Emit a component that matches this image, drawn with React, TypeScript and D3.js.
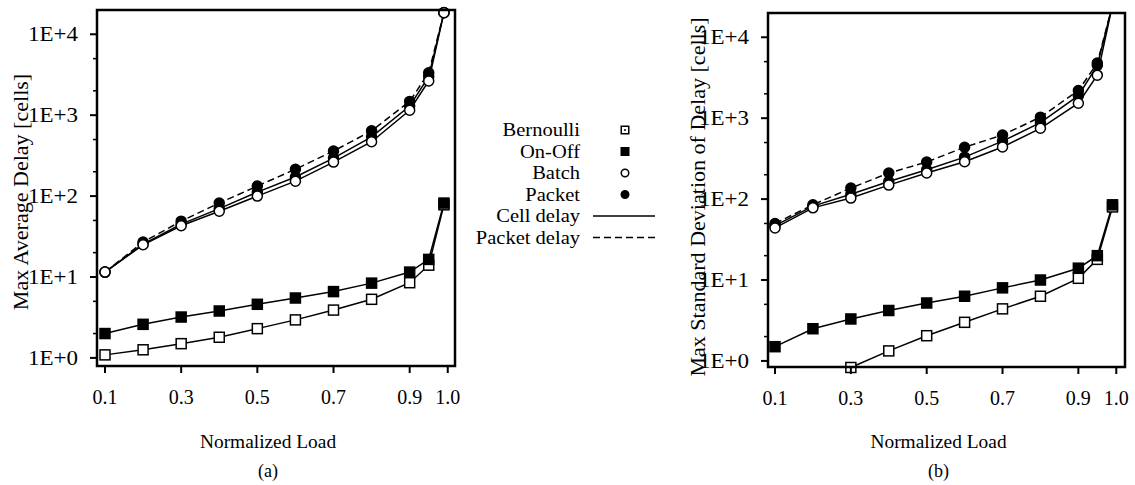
import React from "react";
import * as d3 from "d3";

const loads = [0.1, 0.2, 0.3, 0.4, 0.5, 0.6, 0.7, 0.8, 0.9, 0.95, 0.99];
const xTickValues = [0.1, 0.3, 0.5, 0.7, 0.9, 1.0];
const yMajorTicks = [1, 10, 100, 1000, 10000];
const yMajorLabels = ["1E+0", "1E+1", "1E+2", "1E+3", "1E+4"];
const yMinorTicks = [2, 5, 20, 50, 200, 500, 2000, 5000];

// (a) Max average delay [cells]
const avgBernoulli = [1.09, 1.26, 1.5, 1.8, 2.3, 2.95, 3.9, 5.3, 8.5, 14, 78];
const avgOnOff = [2.0, 2.6, 3.2, 3.8, 4.6, 5.5, 6.6, 8.4, 11.5, 16.5, 82];
const avgBatch = [11.5, 25, 43, 65, 100, 153, 263, 470, 1150, 2650, 18500];
const avgPacketCell = [11.5, 25.5, 45, 70, 112, 172, 295, 540, 1300, 3000, 18500];
const avgPacketPkt = [11.5, 27, 49, 82, 133, 215, 360, 640, 1480, 3350, 18600];

// (b) Max standard deviation of delay [cells]
const sdBernoulli = [null, null, 0.83, 1.33, 2.05, 3.0, 4.4, 6.3, 10.5, 18, 80];
const sdOnOff = [1.5, 2.5, 3.3, 4.2, 5.2, 6.3, 8.0, 10, 14, 20, 85];
const sdBatch = [44, 78, 103, 149, 210, 290, 440, 750, 1530, 3400, 25000];
const sdPacketCell = [47, 82, 115, 165, 230, 330, 520, 880, 1900, 4500, 25000];
const sdPacketPkt = [50, 85, 137, 210, 287, 438, 620, 1030, 2200, 4800, 25000];

const legendLabels = ["Bernoulli", "On-Off", "Batch", "Packet", "Cell delay", "Packet delay"];

const FONT = "'Liberation Serif', 'Times New Roman', serif";

type TProps = {
  x: number; y: number; size: number; sx?: number; anchor?: string; rot?: number; children: React.ReactNode;
};
function T({ x, y, size, sx = 1, anchor = "start", rot = 0, children }: TProps) {
  return (
    <text
      transform={`translate(${x},${y}) rotate(${rot}) scale(${sx},1)`}
      fontSize={size}
      fontFamily={FONT}
      textAnchor={anchor as any}
      fill="#000"
    >
      {children}
    </text>
  );
}

type Series = { values: (number | null)[]; marker: "osq" | "fsq" | "oc" | "fc"; dashed?: boolean };

function Marker({ kind, x, y, s = 1 }: { kind: string; x: number; y: number; s?: number }) {
  const h = 5 * s;
  if (kind === "osq" || kind === "fsq") {
    return (
      <rect x={x - h} y={y - h} width={2 * h} height={2 * h}
        fill={kind === "fsq" ? "#000" : "#fff"} stroke="#000" strokeWidth={1.5} />
    );
  }
  return (
    <circle cx={x} cy={y} r={h} fill={kind === "fc" ? "#000" : "#fff"} stroke="#000" strokeWidth={1.5} />
  );
}

type PanelProps = {
  id: string; x0: number; x1: number; y0: number; y1: number;
  xDom: [number, number]; yDom: [number, number];
  series: Series[]; title: string; titleX: number; titleY: number;
  tag: string;
};

function Panel({ id, x0, x1, y0, y1, xDom, yDom, series, title, titleX, titleY, tag }: PanelProps) {
  const x = d3.scaleLinear().domain(xDom).range([x0, x1]);
  const y = d3.scaleLog().domain(yDom).range([y1, y0]);
  const cx = (x0 + x1) / 2;
  const line = d3.line<[number, number | null]>()
    .defined((d) => d[1] !== null)
    .x((d) => x(d[0]))
    .y((d) => y(d[1] as number));
  const inDom = (v: number) => v >= yDom[0] * 0.98 && v <= yDom[1] * 1.02;
  return (
    <g>
      <defs>
        <clipPath id={`clip-${id}`}>
          <rect x={x0} y={y0} width={x1 - x0} height={y1 - y0 + 3} />
        </clipPath>
      </defs>
      <g clipPath={`url(#clip-${id})`}>
        {series.map((s, i) => (
          <path key={i}
            d={line(loads.map((l, j) => [l, s.values[j]]) as any) || ""}
            fill="none" stroke="#000" strokeWidth={1.5}
            strokeDasharray={s.dashed ? "7,4" : undefined} />
        ))}
      </g>
      {series.map((s, i) =>
        loads.map((l, j) => {
          const v = s.values[j];
          if (v === null || !inDom(v)) return null;
          return <Marker key={`${i}-${j}`} kind={s.marker} x={x(l)} y={y(v)} />;
        })
      )}
      <rect x={x0} y={y0} width={x1 - x0} height={y1 - y0} fill="none" stroke="#000" strokeWidth={2.5} />
      {yMajorTicks.map((t, i) => (
        <g key={t}>
          <line x1={x0 - 7} x2={x0} y1={y(t)} y2={y(t)} stroke="#000" strokeWidth={2} />
          <T x={x0 - 19} y={y(t) + 7} size={20} sx={1.15} anchor="end">{yMajorLabels[i]}</T>
        </g>
      ))}
      {yMinorTicks.map((t) => (
        <line key={t} x1={x0 - 4} x2={x0} y1={y(t)} y2={y(t)} stroke="#000" strokeWidth={1.5} />
      ))}
      {xTickValues.map((t) => (
        <g key={t}>
          <line x1={x(t)} x2={x(t)} y1={y1} y2={y1 + 7} stroke="#000" strokeWidth={2} />
          <T x={x(t)} y={y1 + 38} size={20} sx={1.0} anchor="middle">{t.toFixed(1)}</T>
        </g>
      ))}
      <T x={cx - 8} y={448} size={19} sx={1.02} anchor="middle">Normalized Load</T>
      <T x={cx - 8} y={477} size={18} sx={1.0} anchor="middle">{tag}</T>
      <T x={titleX} y={titleY} size={21} sx={1.05} anchor="middle" rot={-90}>{title}</T>
    </g>
  );
}

function Legend() {
  const rows = [136, 157.5, 179, 200.5, 222, 243.5];
  const kinds = ["osq", "fsq", "oc", "fc"];
  return (
    <g>
      {legendLabels.map((lab, i) => (
        <T key={lab} x={580} y={rows[i]} size={19} sx={1.08} anchor="end">{lab}</T>
      ))}
      {kinds.map((k, i) => (
        <g key={k}>
          <Marker kind={k} x={625} y={rows[i] - 6} s={0.75} />
          {k === "osq" && <circle cx={625} cy={rows[i] - 6} r={1} fill="#000" />}
        </g>
      ))}
      <line x1={593} x2={655} y1={rows[4] - 6} y2={rows[4] - 6} stroke="#000" strokeWidth={1.3} />
      <line x1={593} x2={655} y1={rows[5] - 6} y2={rows[5] - 6} stroke="#000" strokeWidth={1.3} strokeDasharray="7,4" />
    </g>
  );
}

export default function App() {
  const seriesA: Series[] = [
    { values: avgBernoulli, marker: "osq" },
    { values: avgOnOff, marker: "fsq" },
    { values: avgPacketPkt, marker: "fc", dashed: true },
    { values: avgPacketCell, marker: "fc" },
    { values: avgBatch, marker: "oc" },
  ];
  const seriesB: Series[] = [
    { values: sdBernoulli, marker: "osq" },
    { values: sdOnOff, marker: "fsq" },
    { values: sdPacketPkt, marker: "fc", dashed: true },
    { values: sdPacketCell, marker: "fc" },
    { values: sdBatch, marker: "oc" },
  ];
  return (
    <svg width={1135} height={485} style={{ position: "absolute", left: 0, top: 0, background: "#fff" }}>
      <rect width={1135} height={485} fill="#fff" />
      <Panel id="a" x0={97} x1={455} y0={10} y1={366} xDom={[0.079, 1.019]}
        yDom={[Math.pow(10, -0.1), Math.pow(10, 4.3)]} series={seriesA}
        title="Max Average Delay [cells]" titleX={28} titleY={192} tag="(a)" />
      <Panel id="b" x0={768} x1={1125} y0={13} y1={367} xDom={[0.0815, 1.023]}
        yDom={[Math.pow(10, -0.075), Math.pow(10, 4.3)]} series={seriesB}
        title="Max Standard Deviation of Delay [cells]" titleX={705} titleY={197} tag="(b)" />
      <Legend />
    </svg>
  );
}
